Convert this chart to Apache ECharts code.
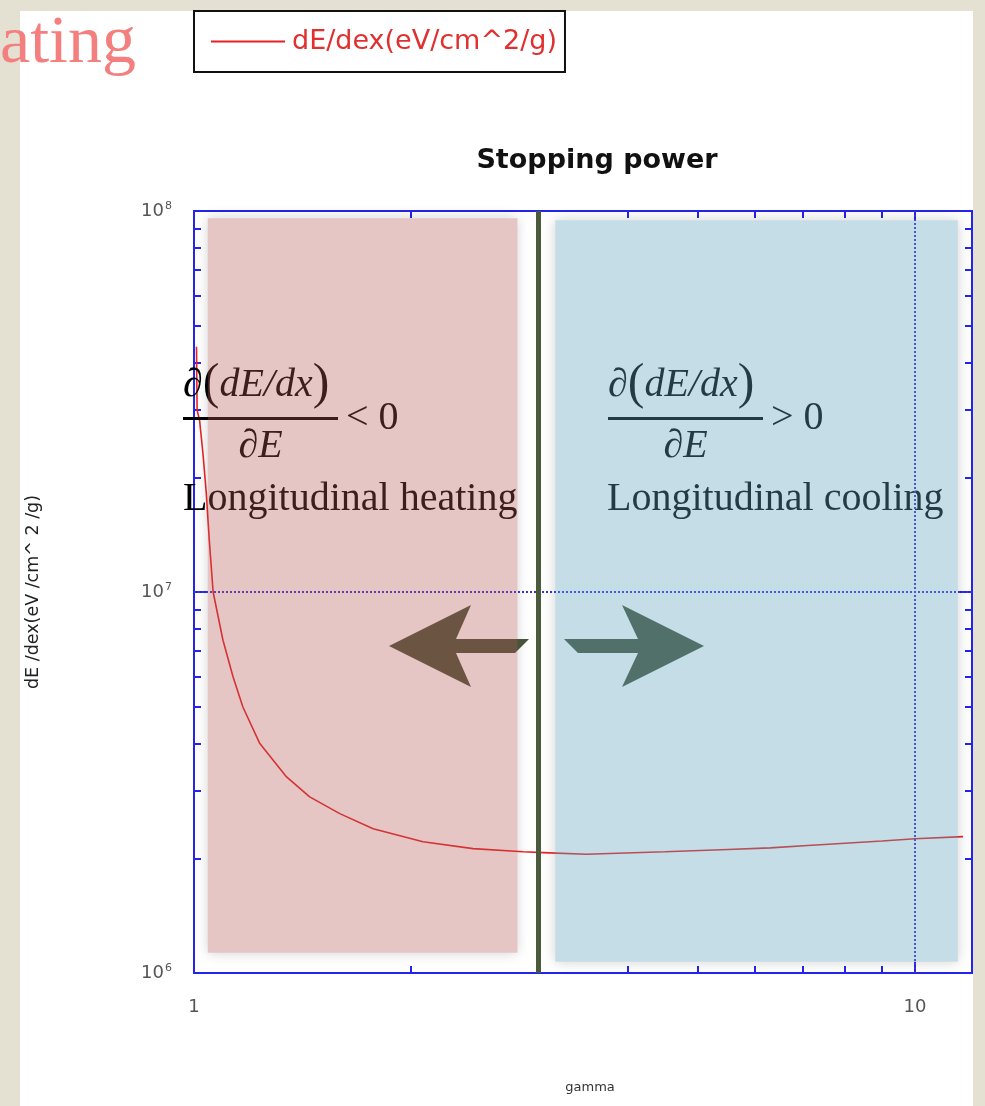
<!DOCTYPE html>
<html>
<head>
<meta charset="utf-8">
<title>Stopping power</title>
<script src="https://cdn.jsdelivr.net/npm/echarts@6/dist/echarts.min.js"></script>
<style>
  html, body { margin: 0; padding: 0; background: #e4e1d2; }
  #main { width: 985px; height: 1106px; }
</style>
</head>
<body>
<div id="main"></div>
<script>
// values (gamma, dE/dx in eV/cm^2/g)
const gamma = [1.008, 1.010, 1.018, 1.029, 1.040, 1.050, 1.063, 1.097, 1.133, 1.169, 1.234, 1.344, 1.447, 1.593, 1.772, 2.078, 2.438, 2.861, 3.05, 3.5, 4.5, 5.5, 6.3, 7.1, 8.0, 9.0, 10.0, 11.66];
const dedx = [4.40e7, 3.00e7, 2.82e7, 2.31e7, 1.82e7, 1.37e7, 1.0e7, 7.47e6, 5.98e6, 4.99e6, 4.00e6, 3.27e6, 2.90e6, 2.62e6, 2.39e6, 2.21e6, 2.12e6, 2.08e6, 2.07e6, 2.05e6, 2.08e6, 2.11e6, 2.13e6, 2.16e6, 2.19e6, 2.22e6, 2.25e6, 2.28e6];

const xLabels = [1, 10];
const xMinor = [2, 3, 4, 5, 6, 7, 8, 9];
const xMajor = [10];
const yLabels = [1e6, 1e7, 1e8];
const yMinor = [2e6, 3e6, 4e6, 5e6, 6e6, 7e6, 8e6, 9e6, 2e7, 3e7, 4e7, 5e7, 6e7, 7e7, 8e7, 9e7];
const yMajor = [1e7];

// shaded regions [gamma, dE/dx] corners and the divider
const heatBand = [[1.045, 9.57e7], [2.81, 1.13e6]];
const coolBand = [[3.17, 9.45e7], [11.47, 1.07e6]];
const dividerGamma = 3;

const sans = '"DejaVu Sans", Verdana, sans-serif';
const serif = '"Liberation Serif", "Times New Roman", serif';
const blue = '#2424ec';

function xAxisOf(position, ticks, len, labels) {
    return {
        type: 'log', logBase: 10, min: 1, max: 12, position: position,
        axisLine: { show: false },
        splitLine: { show: false },
        axisTick: { show: true, inside: true, length: len, customValues: ticks, lineStyle: { color: blue, width: 2 } },
        axisLabel: labels ? { show: true, customValues: labels, margin: 25, color: '#555', fontSize: 18, fontFamily: sans } : { show: false }
    };
}

function yAxisOf(position, ticks, len, labels) {
    return {
        type: 'log', logBase: 10, min: 1e6, max: 1e8, position: position,
        axisLine: { show: false },
        splitLine: { show: false },
        axisTick: { show: true, inside: true, length: len, customValues: ticks, lineStyle: { color: blue, width: 2 } },
        axisLabel: labels ? {
            show: true, customValues: labels, margin: 22, color: '#555', fontSize: 18, fontFamily: sans,
            formatter: function (v) { return '10{s|' + Math.round(Math.log10(v)) + '}'; },
            rich: { s: { fontSize: 11, color: '#555', fontFamily: sans, verticalAlign: 'top', padding: [0, 0, 10, 1] } }
        } : { show: false }
    };
}

const xAxes = [xAxisOf('bottom', xMinor, 7, xLabels), xAxisOf('top', xMinor, 7), xAxisOf('bottom', xMajor, 12), xAxisOf('top', xMajor, 12)];
xAxes[0].name = 'gamma';
xAxes[0].nameLocation = 'middle';
xAxes[0].nameGap = 108;
xAxes[0].nameTextStyle = { fontSize: 13, color: '#333', fontFamily: sans, padding: [0, 0, 0, 14] };

const yAxes = [yAxisOf('left', yMinor, 7, yLabels), yAxisOf('right', yMinor, 7), yAxisOf('left', yMajor, 13), yAxisOf('right', yMajor, 13)];
yAxes[0].name = 'dE /dex(eV /cm^ 2 /g)';
yAxes[0].nameLocation = 'middle';
yAxes[0].nameGap = 152;
yAxes[0].nameTextStyle = { fontSize: 17.5, color: '#222', fontFamily: sans };

const chart = echarts.init(document.getElementById('main'));

const fracStyle = {
    a: { fontFamily: serif, fontSize: 40, fill: '#000' },
    i: { fontFamily: serif, fontSize: 40, fontStyle: 'italic', fill: '#000' },
    p: { fontFamily: serif, fontSize: 50, fill: '#000' }
};

function fraction(x, right, sign) {
    return [
        { type: 'text', z: 3, x: x, y: 385, style: { text: '{a|∂}{p|(}{i|dE}{i|/}{i|dx}{p|)}', rich: fracStyle, verticalAlign: 'middle' } },
        { type: 'rect', z: 3, shape: { x: x, y: 417, width: right - x, height: 3 }, style: { fill: '#000' } },
        { type: 'text', z: 3, x: (x + right) / 2, y: 446, style: { text: '{a|∂}{i|E}', rich: fracStyle, align: 'center', verticalAlign: 'middle' } },
        { type: 'text', z: 3, x: right + 8, y: 418, style: { text: sign + ' 0', font: '40px ' + serif, fill: '#000', verticalAlign: 'middle' } }
    ];
}

const arrowColor = '#47543a';
const halo = { color: '#fff', shadowBlur: 12, shadowColor: 'rgba(0,0,0,0.18)' };

chart.setOption({
    backgroundColor: '#e4e1d2',
    animation: false,
    grid: { left: 194, top: 211, right: 13, bottom: 133, show: true, borderColor: blue, borderWidth: 2, backgroundColor: 'transparent', outerBoundsMode: 'none' },
    legend: {
        left: 194, top: 11,
        data: ['dE/dex(eV/cm^2/g)'],
        itemWidth: 74, itemHeight: 14,
        padding: [17, 8, 17, 16],
        borderColor: '#111', borderWidth: 2, borderRadius: 0,
        backgroundColor: '#fff',
        itemStyle: { opacity: 0 },
        lineStyle: { width: 2 },
        textStyle: { color: '#e03030', fontSize: 27, fontFamily: sans, padding: [0, 0, 0, 2] }
    },
    xAxis: xAxes,
    yAxis: yAxes,
    graphic: [
        { type: 'rect', z: -10, shape: { x: 20, y: 11, width: 953, height: 1095 }, style: { fill: '#fff' } },
        { type: 'text', z: 3, x: 0, y: 44, style: { text: 'ating', font: '68px ' + serif, fill: '#f47f7f', verticalAlign: 'middle' } },
        { type: 'text', z: 3, x: 597, y: 161, style: { text: 'Stopping power', font: 'bold 27px ' + sans, fill: '#111', align: 'center', verticalAlign: 'middle' } }
    ].concat(fraction(183, 338, '<'), fraction(608, 763, '>'), [
        { type: 'text', z: 3, x: 183, y: 499, style: { text: 'Longitudinal heating', font: '40px ' + serif, fill: '#000', verticalAlign: 'middle' } },
        { type: 'text', z: 3, x: 607, y: 499, style: { text: 'Longitudinal cooling', font: '40px ' + serif, fill: '#000', verticalAlign: 'middle' } },
        { type: 'polygon', z: 3, shape: { points: [[389, 646], [471, 605], [456, 639], [529, 639], [515, 653], [456, 653], [471, 687]] }, style: { fill: arrowColor } },
        { type: 'polygon', z: 3, shape: { points: [[564, 639], [638, 639], [622, 605], [704, 646], [622, 687], [638, 653], [578, 653]] }, style: { fill: arrowColor } }
    ]),
    series: [
        {
            name: 'halo',
            type: 'line',
            xAxisIndex: 0, yAxisIndex: 0,
            data: [],
            markArea: {
                z: 1, silent: true,
                data: [
                    [{ coord: heatBand[0], itemStyle: halo }, { coord: heatBand[1] }],
                    [{ coord: coolBand[0], itemStyle: halo }, { coord: coolBand[1] }]
                ]
            }
        },
        {
            name: 'dE/dex(eV/cm^2/g)',
            type: 'line',
            xAxisIndex: 0, yAxisIndex: 0,
            data: gamma.map(function (g, i) { return [g, dedx[i]]; }),
            symbol: 'none',
            lineStyle: { color: '#e52222', width: 1.6 },
            itemStyle: { color: '#e52222' },
            z: 2,
            markLine: {
                silent: true, symbol: 'none', label: { show: false },
                lineStyle: { color: '#3333dd', type: 'dotted', width: 2 },
                data: [{ yAxis: yMajor[0] }, { xAxis: xMajor[0] }]
            }
        },
        {
            name: 'regions',
            type: 'line',
            xAxisIndex: 0, yAxisIndex: 0,
            data: [],
            markArea: {
                z: 10, silent: true,
                data: [
                    [{ coord: heatBand[0], itemStyle: { color: 'rgba(181,86,86,0.34)' } }, { coord: heatBand[1] }],
                    [{ coord: coolBand[0], itemStyle: { color: 'rgba(96,162,189,0.365)' } }, { coord: coolBand[1] }]
                ]
            },
            markLine: {
                z: 11, silent: true, symbol: 'none', label: { show: false },
                lineStyle: { color: '#4b5a3a', type: 'solid', width: 5 },
                data: [{ xAxis: dividerGamma }]
            }
        }
    ]
});
</script>
</body>
</html>
